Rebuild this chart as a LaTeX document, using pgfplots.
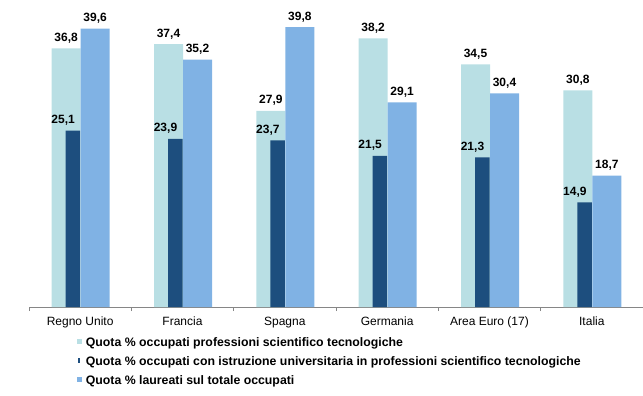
\documentclass[border=0pt]{standalone}
\usepackage{fontspec}
\setmainfont{Liberation Sans}
\usepackage{pgfplots}
\pgfplotsset{compat=1.18}
\definecolor{ltb}{HTML}{B9DFE4}
\definecolor{dkb}{HTML}{1D4E7E}
\definecolor{mdb}{HTML}{80B2E4}
\definecolor{axg}{HTML}{868686}
\begin{document}
\begin{tikzpicture}[font=\fontsize{12bp}{14bp}\selectfont]
\path[use as bounding box] (-29bp,-89bp) rectangle (614bp,307bp);
\begin{axis}[
  at={(0,0)}, anchor=south west,
  scale only axis, width=614bp, height=307bp,
  xmin=-0.5, xmax=5.5, ymin=0, ymax=43.67,
  axis x line*=bottom, axis y line=none,
  x axis line style={draw=axg, line width=0.9bp},
  xtick={0,1,2,3,4,5},
  xticklabels={Regno Unito,Francia,Spagna,Germania,Area Euro (17),Italia},
  major tick length=0pt,
  minor xtick={-0.5,0.5,1.5,2.5,3.5,4.5,5.5},
  minor tick length=4bp,
  tick align=outside,
  xtick style={draw=axg, line width=0.8bp},
  ytick=\empty,
  xticklabel style={inner sep=0pt, yshift=-10bp, font=\fontsize{12bp}{14bp}\selectfont},
  nodes near coords={\pgfmathprintnumber[fixed, fixed zerofill, precision=1, use comma, assume math mode=true]{\pgfplotspointmeta}},
  every node near coord/.append style={inner sep=0pt, anchor=south, yshift=5bp, font=\fontsize{12bp}{14bp}\selectfont\bfseries, text=black},
  legend style={at={(axis description cs:0.078,-0.1)}, anchor=north west, draw=none, fill=none,
    inner sep=0pt, outer sep=0pt, row sep=6.8bp,
    /tikz/every odd column/.append style={column sep=4bp},
    nodes={inner sep=0pt, text height=9bp, text depth=3bp, font=\fontsize{12.3bp}{14bp}\selectfont\bfseries}},
  legend cell align=left,
  clip=false,
]
\addplot[ybar, bar width=29bp, bar shift=-14bp, fill=ltb, draw=none,
  every node near coord/.append style={xshift=-14bp},
  legend image code/.code={\fill[ltb] (0bp,-0.5bp) rectangle (5bp,4.5bp);}]
  coordinates {(0,36.8) (1,37.4) (2,27.9) (3,38.2) (4,34.5) (5,30.8)};
\addlegendentry{Quota \% occupati professioni scientifico tecnologiche}
\addplot[ybar, bar width=14.5bp, bar shift=-7.25bp, fill=dkb, draw=none,
  every node near coord/.append style={xshift=-17bp},
  legend image code/.code={\fill[dkb] (1.5bp,-0.5bp) rectangle (3.5bp,4.5bp);}]
  coordinates {(0,25.1) (1,23.9) (2,23.7) (3,21.5) (4,21.3) (5,14.9)};
\addlegendentry{Quota \% occupati con istruzione universitaria in professioni scientifico tecnologiche}
\addplot[ybar, bar width=29bp, bar shift=15bp, fill=mdb, draw=none,
  every node near coord/.append style={xshift=15bp},
  legend image code/.code={\fill[mdb] (0bp,-0.5bp) rectangle (5bp,4.5bp);}]
  coordinates {(0,39.6) (1,35.2) (2,39.8) (3,29.1) (4,30.4) (5,18.7)};
\addlegendentry{Quota \% laureati sul totale occupati}
\end{axis}
\end{tikzpicture}
\end{document}
